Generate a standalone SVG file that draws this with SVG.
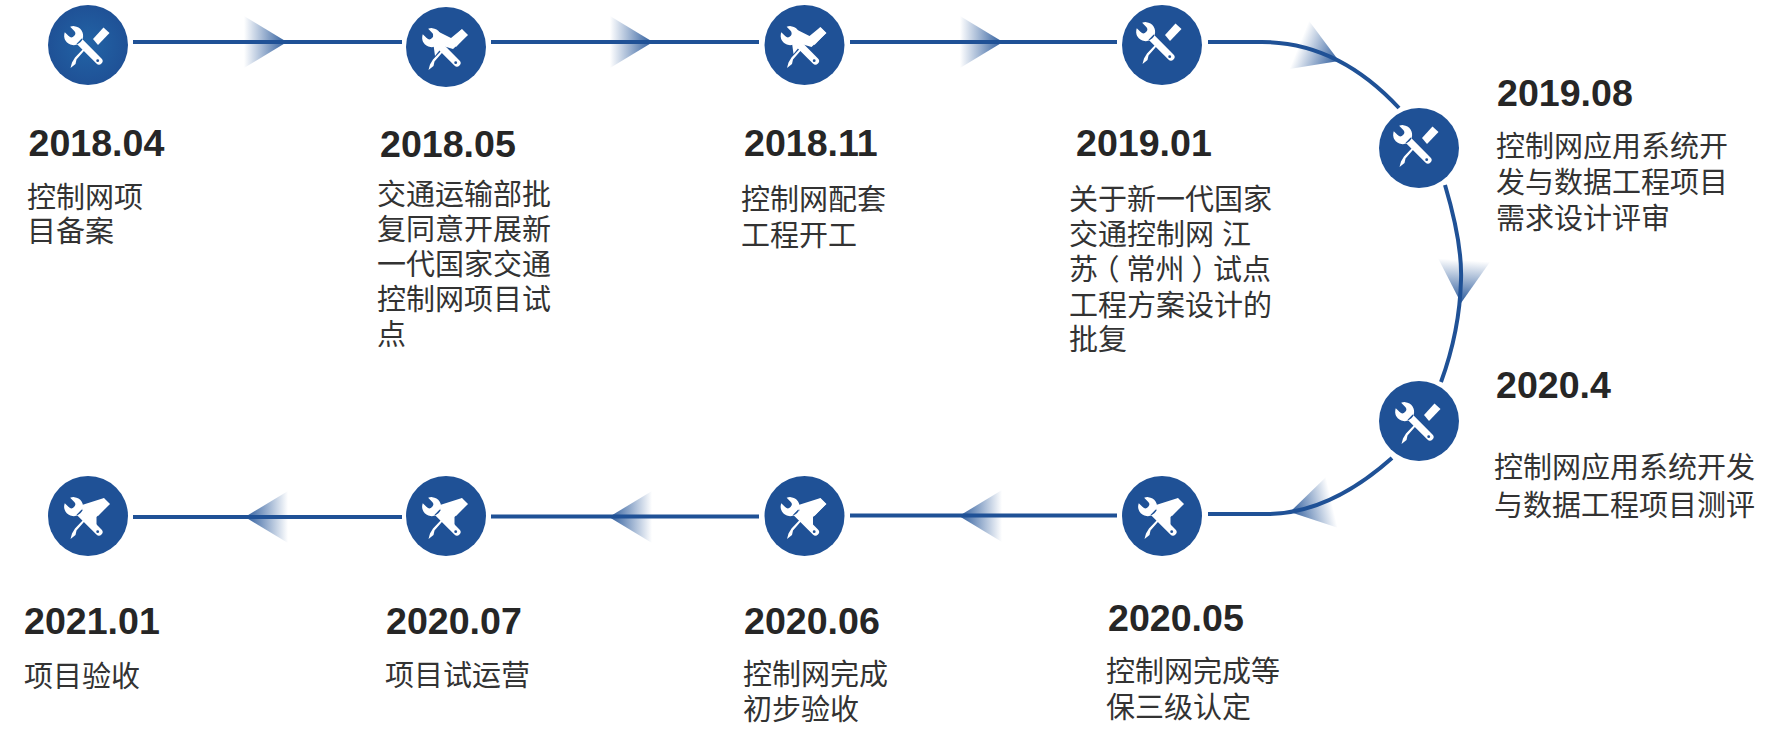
<svg xmlns="http://www.w3.org/2000/svg" xmlns:xlink="http://www.w3.org/1999/xlink" width="1778" height="745" viewBox="0 0 1778 745">
<style>
.bg{fill:#fff}
.disc{fill:#1f5196}
.ln{fill:none;stroke:#1f5196;stroke-width:4}
.date{font-family:"Liberation Sans",Arial,sans-serif;font-weight:700;font-size:37.6px;fill:#262626}
.body{font-family:"Liberation Sans","Noto Sans CJK SC",sans-serif;font-size:29px;fill:#333}
.h{font-feature-settings:"halt"}
</style>
<defs>
<radialGradient id="rg"><stop offset="0" stop-color="#2264a6"/><stop offset="1" stop-color="#1f5196"/></radialGradient>
<linearGradient id="ag" gradientUnits="userSpaceOnUse" x1="-43" y1="0" x2="0" y2="0"><stop offset="0" stop-color="#1f5196" stop-opacity="0"/><stop offset="1" stop-color="#1f5196" stop-opacity=".95"/></linearGradient>
<polygon id="ah" points="0,0 -43,-26 -43,26" fill="url(#ag)"/>
<g id="tool" fill="#fff">
<path transform="translate(-2.5 2.5) rotate(-45)" d="M-3.8,-25.500 A9.500,9.500 0 1 0 3.800,-25.500 L3.800,-20 A3.800,3.800 0 0 1 -3.800,-20 Z M-3.600,-9 H3.600 V19 A3.600,3.600 0 0 1 -3.600,19 Z"/>
<circle cx="9.7" cy="15.7" r="1.4" fill="#1f5196"/>
<polygon points="5,-6 15.5,-17.5 21.5,-12 10,0"/>
<polygon points="-4,3 -2.8,4.4 -11.5,14.5 -12.5,19 -17.5,23 -16,17.5 -13,12.5"/>
</g>
<polygon id="w1" fill="#fff" points="-13,-18 5,-9 16,-18 22,-12 7,2 -3,-1 -11,9 -12.5,-2"/>
<polygon id="w2" fill="#fff" points="-6,-11 16,-18 22,-12 8.5,1 8.5,13 -4,2"/>
</defs>
<rect class="bg" width="1778" height="745"/>
<g id="connectors">
<path class="ln" d="M133,42H402"/>
<path class="ln" d="M491,42H759"/>
<path class="ln" d="M850,42H1117"/>
<path class="ln" d="M1208,42H1262C1315,42 1360,66 1399,108"/>
<path class="ln" d="M1445,185C1456,222 1462,255 1461,280C1460,320 1452,352 1441,382"/>
<path class="ln" d="M1392,458C1356,490 1315,514 1267,514H1208"/>
<path class="ln" d="M850,515.500H1117"/>
<path class="ln" d="M491,516.500H759"/>
<path class="ln" d="M133,517H402"/>
<use href="#ah" transform="translate(287 42)"/>
<use href="#ah" transform="translate(653 42)"/>
<use href="#ah" transform="translate(1003 42)"/>
<use href="#ah" transform="translate(1339 61) rotate(22)"/>
<use href="#ah" transform="translate(1461 303) rotate(94)"/>
<use href="#ah" transform="translate(1290 512) rotate(167)"/>
<use href="#ah" transform="translate(959 516) rotate(180)"/>
<use href="#ah" transform="translate(609 517) rotate(180)"/>
<use href="#ah" transform="translate(245 517) rotate(180)"/>
</g>
<g id="node1"><circle cx="88" cy="45" r="40" fill="url(#rg)"/><use href="#tool" x="88" y="45"/>
<text class="date" x="28.500" y="155.500">2018.04</text>
<text class="body" x="27" y="208">控制网项<tspan x="27" y="242">目备案</tspan></text></g>
<g id="node2"><circle class="disc" cx="446" cy="47" r="40"/><use href="#tool" x="446" y="47"/><use href="#w1" x="446" y="47"/>
<text class="date" x="380" y="157">2018.05</text>
<text class="body" x="377" y="205">交通运输部批<tspan x="377" y="240">复同意开展新</tspan><tspan x="377" y="275">一代国家交通</tspan><tspan x="377" y="310">控制网项目试</tspan><tspan x="377" y="345">点</tspan></text></g>
<g id="node3"><circle class="disc" cx="804.500" cy="45" r="40"/><use href="#tool" x="804.500" y="45"/><use href="#w1" x="804.500" y="45"/>
<text class="date" x="744" y="156">2018.11</text>
<text class="body" x="741" y="210">控制网配套<tspan x="741" y="246">工程开工</tspan></text></g>
<g id="node4"><circle class="disc" cx="1162" cy="45" r="40"/><use href="#tool" x="1160" y="41"/>
<text class="date" x="1076" y="156">2019.01</text>
<text class="body" x="1069" y="210">关于新一代国家<tspan x="1069" y="245">交通控制网 江</tspan><tspan x="1069" y="280">苏<tspan class="h" dx="7">（</tspan><tspan dx="7">常州</tspan><tspan class="h" dx="7">）</tspan><tspan dx="7">试点</tspan></tspan><tspan x="1069" y="315.500">工程方案设计的</tspan><tspan x="1069" y="350">批复</tspan></text></g>
<g id="node5"><circle class="disc" cx="1419" cy="148" r="40"/><use href="#tool" x="1417" y="144"/>
<text class="date" x="1497" y="106">2019.08</text>
<text class="body" x="1496" y="157">控制网应用系统开<tspan x="1496" y="193">发与数据工程项目</tspan><tspan x="1496" y="229">需求设计评审</tspan></text></g>
<g id="node6"><circle class="disc" cx="1419" cy="421" r="40"/><use href="#tool" x="1419" y="421"/>
<text class="date" x="1496" y="398">2020.4</text>
<text class="body" x="1494" y="478">控制网应用系统开发<tspan x="1494" y="516">与数据工程项目测评</tspan></text></g>
<g id="node7"><circle class="disc" cx="1162" cy="516" r="40"/><use href="#tool" x="1162" y="516"/><use href="#w2" x="1162" y="516"/>
<text class="date" x="1108" y="630.500">2020.05</text>
<text class="body" x="1106" y="682">控制网完成等<tspan x="1106" y="718">保三级认定</tspan></text></g>
<g id="node8"><circle class="disc" cx="804.500" cy="516" r="40"/><use href="#tool" x="804.500" y="516"/><use href="#w2" x="804.500" y="516"/>
<text class="date" x="744" y="634">2020.06</text>
<text class="body" x="743" y="685">控制网完成<tspan x="743" y="720">初步验收</tspan></text></g>
<g id="node9"><circle class="disc" cx="446" cy="516" r="40"/><use href="#tool" x="446" y="516"/><use href="#w2" x="446" y="516"/>
<text class="date" x="386" y="634">2020.07</text>
<text class="body" x="385" y="686">项目试运营</text></g>
<g id="node10"><circle class="disc" cx="88" cy="516" r="40"/><use href="#tool" x="88" y="516"/><use href="#w2" x="88" y="516"/>
<text class="date" x="24" y="634">2021.01</text>
<text class="body" x="24" y="687">项目验收</text></g>
</svg>
